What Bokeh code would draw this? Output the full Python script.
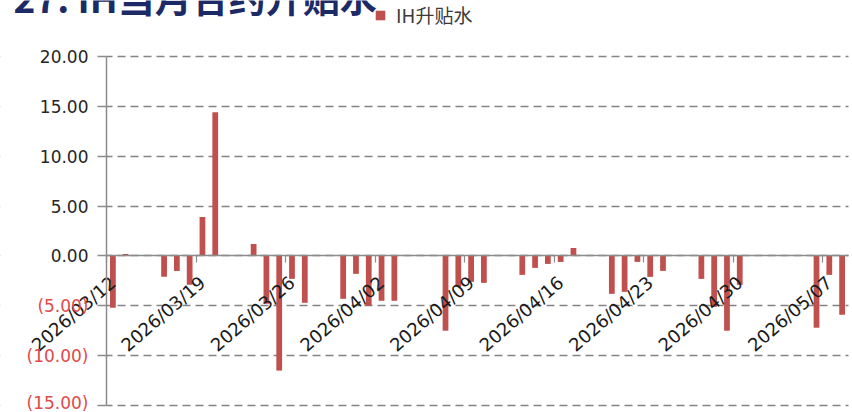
import pandas as pd
from bokeh.plotting import figure
from bokeh.models import (ColumnDataSource, FixedTicker, LinearAxis, DatetimeAxis,
                          DatetimeTickFormatter, NumeralTickFormatter, Range1d, Label,
                          Legend, LegendItem, Grid, BoxAnnotation)
from bokeh.embed import file_html
from bokeh.resources import INLINE

# ---------------- data ----------------
title_text = "27: IH当月合约升贴水"
series_name = "IH升贴水"

dates = ["2026-03-12", "2026-03-13", "2026-03-16", "2026-03-17", "2026-03-18",
         "2026-03-19", "2026-03-20", "2026-03-23", "2026-03-24", "2026-03-25",
         "2026-03-26", "2026-03-27", "2026-03-30", "2026-03-31", "2026-04-01",
         "2026-04-02", "2026-04-03", "2026-04-07", "2026-04-08", "2026-04-09",
         "2026-04-10", "2026-04-13", "2026-04-14", "2026-04-15", "2026-04-16",
         "2026-04-17", "2026-04-20", "2026-04-21", "2026-04-22", "2026-04-23",
         "2026-04-24", "2026-04-27", "2026-04-28", "2026-04-29", "2026-04-30",
         "2026-05-06", "2026-05-07", "2026-05-08"]
values = [-5.2, 0.2, -2.1, -1.5, -2.9,
          3.9, 14.4, 1.2, -4.8, -11.5,
          -2.3, -4.7, -4.3, -1.8, -5.0,
          -4.5, -4.5, -7.5, -3.1, -2.6,
          -2.7, -1.9, -1.2, -0.8, -0.6,
          0.8, -3.8, -3.6, -0.6, -2.1,
          -1.5, -2.3, -5.1, -7.5, -2.9,
          -7.2, -1.9, -5.9]

tick_dates = ["2026-03-12", "2026-03-19", "2026-03-26", "2026-04-02", "2026-04-09",
              "2026-04-16", "2026-04-23", "2026-04-30", "2026-05-07"]
x_start_date = "2026-03-12"
x_end_date = "2026-05-08"
y_ticks_pos = [0, 5, 10, 15, 20]
y_ticks_neg = [-5, -10, -15]
y_min, y_max = -15, 20

# ---------------- layout (pixels) ----------------
W, H = 852, 412
plot_left, plot_right = 106, 848
plot_top, plot_bottom = 56, 405

DAY = 86400000.0
HALF = DAY / 2
x = pd.to_datetime(dates)
src = ColumnDataSource(dict(x=x, v=values))

x0 = pd.Timestamp(x_start_date).value / 1e6 - HALF
x1 = pd.Timestamp(x_end_date).value / 1e6 + HALF
ppx = (plot_right - plot_left) / (x1 - x0)
ppy = (plot_bottom - plot_top) / (y_max - y_min)
xr = Range1d(x0 - plot_left / ppx, x1 + (W - plot_right) / ppx)
yr = Range1d(y_min - (H - plot_bottom) / ppy, y_max + plot_top / ppy)

p = figure(width=W, height=H, output_backend="svg", toolbar_location=None,
           x_axis_type="datetime", x_axis_location=None, y_axis_location=None,
           x_range=xr, y_range=yr,
           background_fill_color="white", border_fill_color="white")
p.min_border = 0
p.outline_line_color = None
p.xgrid.visible = False
p.ygrid.visible = False

grid = Grid(dimension=1, ticker=FixedTicker(ticks=y_ticks_neg + y_ticks_pos),
            grid_line_color="#848484", grid_line_width=1.3, grid_line_dash="8 5")
p.add_layout(grid)
# keep the label area left/right of the plot free of grid lines
p.add_layout(BoxAnnotation(right=x0, fill_color="white", fill_alpha=1.0,
                           line_alpha=0, level="underlay"))
p.add_layout(BoxAnnotation(left=x1, fill_color="white", fill_alpha=1.0,
                           line_alpha=0, level="underlay"))

bar_color = "#C0504D"
r = p.vbar(x="x", top="v", bottom=0, width=0.45 * DAY, source=src,
           fill_color=bar_color, line_color=None)

axis_gray = "#8c8c8c"

# x axis crossing at 0
tick_ms = [pd.Timestamp(d).value / 1e6 for d in tick_dates]
minor_ms = [t - HALF for t in tick_ms]
xaxis = DatetimeAxis(ticker=FixedTicker(ticks=tick_ms, minor_ticks=minor_ms),
                     formatter=DatetimeTickFormatter(days="%Y/%m/%d", months="%Y/%m/%d",
                                                     years="%Y/%m/%d", hours="%Y/%m/%d"),
                     fixed_location=0, bounds=(x0, x1))
xaxis.axis_line_color = axis_gray
xaxis.axis_line_width = 1.5
xaxis.major_tick_out = 0
xaxis.major_tick_in = 0
xaxis.minor_tick_out = 7
xaxis.minor_tick_in = 0
xaxis.minor_tick_line_color = axis_gray
xaxis.minor_tick_line_width = 1.2
xaxis.major_label_orientation = 0.71
xaxis.major_label_standoff = 17
xaxis.major_label_text_font = "DejaVu Sans"
xaxis.major_label_text_font_size = "18px"
xaxis.major_label_text_color = "#1a1a1a"
p.add_layout(xaxis, "below")

# y axis: positive labels in dark, negative in red (parentheses)
yaxis_pos = LinearAxis(ticker=FixedTicker(ticks=y_ticks_pos),
                       formatter=NumeralTickFormatter(format="0.00"),
                       fixed_location=x0, bounds=(y_min, y_max))
yaxis_neg = LinearAxis(ticker=FixedTicker(ticks=y_ticks_neg),
                       formatter=NumeralTickFormatter(format="(0.00)"),
                       fixed_location=x0, bounds=(y_min, y_max))
for ax, col in ((yaxis_pos, "#262626"), (yaxis_neg, "#e04a4a")):
    ax.major_tick_out = 9
    ax.major_tick_in = 0
    ax.minor_tick_out = 0
    ax.minor_tick_in = 0
    ax.major_tick_line_color = axis_gray
    ax.major_tick_line_width = 1.3
    ax.major_label_standoff = 9
    ax.major_label_text_font = "DejaVu Sans"
    ax.major_label_text_font_size = "17px"
    ax.major_label_text_color = col
yaxis_pos.axis_line_color = axis_gray
yaxis_pos.axis_line_width = 1.5
yaxis_neg.axis_line_alpha = 0
p.add_layout(yaxis_pos, "left")
p.add_layout(yaxis_neg, "left")

legend = Legend(items=[LegendItem(label=series_name, renderers=[r])],
                location=(374, 384), orientation="horizontal",
                glyph_width=12, glyph_height=12, label_standoff=10,
                label_text_font="Noto Sans CJK SC", label_text_font_size="19px",
                label_text_color="#3a3a3a", padding=0, margin=0, spacing=0,
                border_line_alpha=0, background_fill_alpha=0)
p.add_layout(legend)

title = Label(x=13, y=416, x_units="screen", y_units="screen", text=title_text,
              text_font="Noto Sans CJK SC", text_font_style="bold",
              text_font_size="37px", text_color="#1c2a66", text_baseline="alphabetic")
p.add_layout(title)

open("out.html", "w").write(file_html(p, INLINE))
